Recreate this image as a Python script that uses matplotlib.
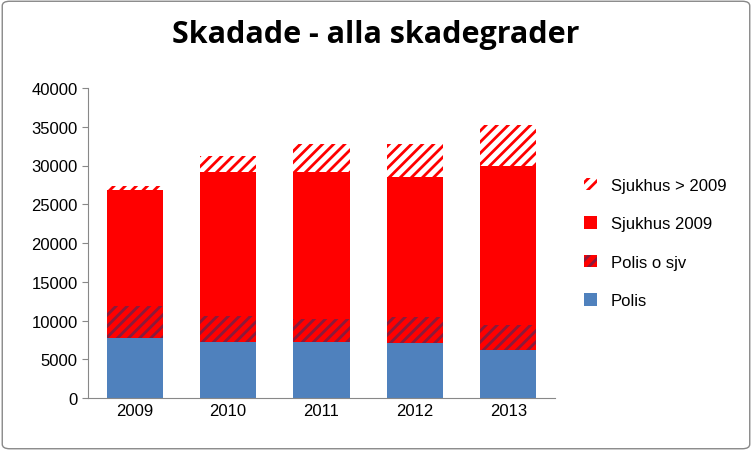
import matplotlib
matplotlib.use("Agg")
import matplotlib.pyplot as plt
from matplotlib.patches import FancyBboxPatch

years = ["2009", "2010", "2011", "2012", "2013"]
polis = [7700, 7200, 7200, 7100, 6200]
polis_o_sjv = [4200, 3400, 3000, 3300, 3200]
sjukhus_2009 = [15000, 18600, 19000, 18100, 20500]
sjukhus_gt_2009 = [400, 2000, 3600, 4300, 5300]

plt.rcParams["font.family"] = "Liberation Sans"
plt.rcParams["hatch.linewidth"] = 2.0
fig = plt.figure(figsize=(7.52, 4.52), dpi=100)
ax = fig.add_axes([88/752, 53/452, 467/752, 310/452])
x = range(len(years))
w = 0.6
b1 = [0]*5
b2 = polis
b3 = [a+b for a, b in zip(b2, polis_o_sjv)]
b4 = [a+b for a, b in zip(b3, sjukhus_2009)]

h_polis = ax.bar(x, polis, w, color="#4f81bd", label="Polis")
plt.rcParams["hatch.color"] = "#8b1a3a"
h_sjv = ax.bar(x, polis_o_sjv, w, bottom=b2, color="#ff0000", edgecolor="#8b1a3a",
               hatch="///", linewidth=0, label="Polis o sjv")
h_s09 = ax.bar(x, sjukhus_2009, w, bottom=b3, color="#ff0000", label="Sjukhus 2009")
h_gt = ax.bar(x, sjukhus_gt_2009, w, bottom=b4, color="white", edgecolor="#ff0000",
              hatch="///", linewidth=0, label="Sjukhus > 2009")

ax.set_ylim(0, 40000)
ax.set_yticks(range(0, 40001, 5000))
ax.set_xticks(list(x))
ax.set_xticklabels(years)
ax.set_xlim(-0.5, 4.5)
ax.tick_params(labelsize=12, length=4, color="#888888")
ax.tick_params(axis="x", length=0)
for s in ["top", "right"]:
    ax.spines[s].set_visible(False)
ax.spines["left"].set_color("#888888")
ax.spines["bottom"].set_color("#888888")

fig.text(0.5, 0.905, "Skadade - alla skadegrader", ha="center", fontsize=22,
         fontweight="bold", fontfamily="Open Sans")
ax.legend([h_gt, h_s09, h_sjv, h_polis],
          ["Sjukhus > 2009", "Sjukhus 2009", "Polis o sjv", "Polis"],
          loc="center left", bbox_to_anchor=(1.03, 0.5), frameon=False,
          fontsize=12, labelspacing=1.4, handlelength=0.8, handleheight=0.8)
fig.patches.append(FancyBboxPatch((0.003, 0.005), 0.994, 0.99, boxstyle="round,pad=0,rounding_size=0.01",
                                  transform=fig.transFigure, fill=False, edgecolor="#888888", linewidth=1))
fig.savefig("out.png", dpi=100)
